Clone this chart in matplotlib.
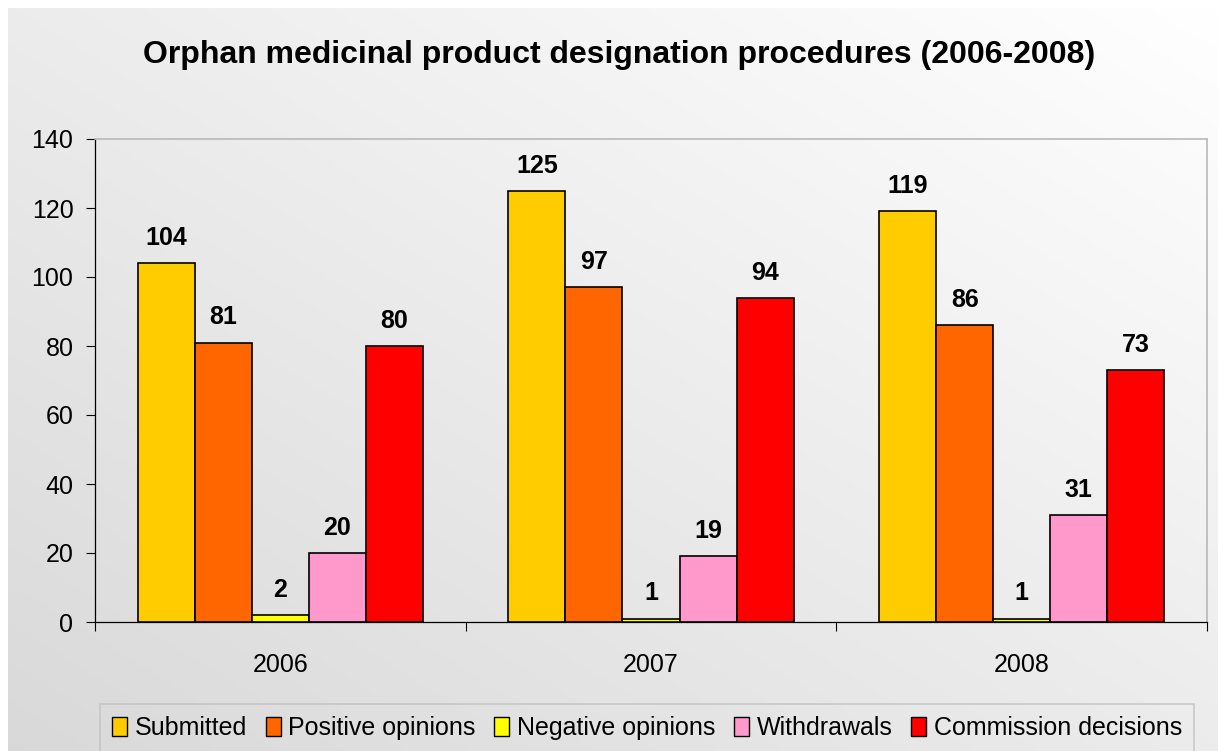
import numpy as np
import matplotlib.pyplot as plt
from matplotlib.patches import Patch

years = ["2006", "2007", "2008"]
series = ["Submitted", "Positive opinions", "Negative opinions",
          "Withdrawals", "Commission decisions"]
submitted = [104, 125, 119]
positive = [81, 97, 86]
negative = [2, 1, 1]
withdrawals = [20, 19, 31]
commission = [80, 94, 73]
colors = ["#FFCC00", "#FF6600", "#FFFF00", "#FF99CC", "#FF0000"]


def gradient(h=200, w=300, dark=0.85):
    x = np.linspace(0, 1, w)[None, :]
    y = np.linspace(0, 1, h)[:, None]  # 0 at top
    t = ((1 - x) + y) / 2
    v = 1 - (1 - dark) * t
    return np.dstack([v, v, v])


def main():
    plt.rcParams['font.family'] = ['Liberation Sans', 'DejaVu Sans']
    fig = plt.figure(figsize=(12.18, 7.51), dpi=100)

    # chart-area background, white strip at top and left
    bg = fig.add_axes([8 / 1218, 0, 1 - 8 / 1218, 1 - 8 / 751], zorder=-10)
    bg.imshow(gradient(), aspect='auto', extent=[0, 1, 0, 1])
    bg.axis('off')

    ax = fig.add_axes([95 / 1218, 129 / 751, 1112 / 1218, 483 / 751])
    ax.set_facecolor('none')

    data = [submitted, positive, negative, withdrawals, commission]
    n = len(series)
    bw = 1 / (n + 1.5)
    x = np.arange(len(years)) + 0.5
    for i, (vals, c) in enumerate(zip(data, colors)):
        pos = x + (i - (n - 1) / 2) * bw
        bars = ax.bar(pos, vals, bw, color=c, edgecolor='black',
                      linewidth=1.2, label=series[i], zorder=3)
        for b, v in zip(bars, vals):
            ax.annotate(str(v), (b.get_x() + b.get_width() / 2, v),
                        xytext=(0, 13), textcoords='offset points',
                        ha='center', va='baseline', fontsize=18,
                        fontweight='bold')

    ax.set_xlim(0, len(years))
    ax.set_ylim(0, 140)
    ax.set_yticks(range(0, 141, 20))
    ax.tick_params(axis='y', labelsize=18, length=6.5, width=0.8,
                   pad=9, direction='out')
    ax.set_xticks(range(len(years) + 1))
    ax.set_xticklabels([])
    ax.set_xticks(x, minor=True)
    ax.set_xticklabels(years, minor=True)
    ax.tick_params(axis='x', which='major', length=6.5, width=0.8,
                   direction='out')
    ax.tick_params(axis='x', which='minor', length=0, labelsize=18, pad=22)

    for s in ['left', 'bottom']:
        ax.spines[s].set_color('black')
        ax.spines[s].set_linewidth(0.9)
    for s in ['top', 'right']:
        ax.spines[s].set_color('#b8b8b8')
        ax.spines[s].set_linewidth(1.2)

    fig.text(0.508, 1 - 55 / 751,
             "Orphan medicinal product designation procedures (2006-2008)",
             ha='center', va='center', fontsize=23, fontweight='bold')

    handles = [Patch(facecolor=c, edgecolor='black', linewidth=1.0)
               for c in colors]
    leg = fig.legend(handles, series, loc='center',
                     bbox_to_anchor=(647 / 1218, 1 - 728 / 751), ncol=5,
                     fontsize=18, handlelength=0.6, handleheight=0.8,
                     handletextpad=0.3, columnspacing=0.75,
                     frameon=True, fancybox=False, borderpad=0.5)
    leg.get_frame().set_facecolor('none')
    leg.get_frame().set_edgecolor('#c0c0c0')
    leg.get_frame().set_linewidth(1.2)

    fig.savefig("out.png", dpi=100)


if __name__ == "__main__":
    main()
